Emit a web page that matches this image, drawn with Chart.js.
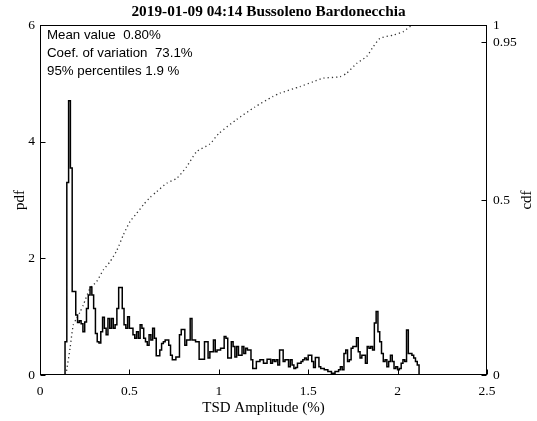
<!DOCTYPE html>
<html lang="en">
<head>
<meta charset="UTF-8">
<title>TSD Amplitude</title>
<script src="https://cdn.jsdelivr.net/npm/chart.js"></script>
<style>
  html, body { margin: 0; padding: 0; background: #fff; }
  #wrap { width: 537px; height: 421px; position: relative; }
</style>
</head>
<body>
<div id="wrap"><canvas id="tsdChart"></canvas></div>
<script>
// histogram: bins of 0.01 starting at 0, values = pdf
const chartTitle = '2019-01-09 04:14 Bussoleno Bardonecchia';
const binStart = 0;
const binWidth = 0.01;
const pdfValues = [
  0, 0, 0, 0, 0, 0, 0, 0, 0, 0,
  0, 0, 0, 0, 0.57, 3.3, 4.7, 3.55, 1.43, 1.43,
  1.03, 0.90, 0.93, 0.88, 0.74, 0.91, 1.14, 1.37, 1.51, 1.37,
  1.14, 0.71, 0.57, 0.55, 0.74, 0.99, 0.80, 0.69, 0.97, 0.80,
  0.97, 0.80, 0.86, 1.14, 1.50, 1.50, 1.14, 0.86, 0.80, 1.00,
  0.80, 0.80, 0.69, 0.63, 0.74, 0.63, 0.86, 0.80, 0.63, 0.57,
  0.51, 0.69, 0.60, 0.80, 0.63, 0.33, 0.33, 0.43, 0.54, 0.57,
  0.60, 0.60, 0.51, 0.34, 0.26, 0.26, 0.31, 0.31, 0.69, 0.78,
  0.78, 0.51, 0.60, 0.60, 0.97, 0.60, 0.60, 0.57, 0.57, 0.27,
  0.27, 0.27, 0.57, 0.57, 0.29, 0.40, 0.40, 0.60, 0.40, 0.43,
  0.43, 0.46, 0.46, 0.66, 0.63, 0.29, 0.29, 0.57, 0.49, 0.31,
  0.49, 0.34, 0.34, 0.49, 0.37, 0.46, 0.43, 0.43, 0.26, 0.11,
  0.11, 0.23, 0.23, 0.26, 0.26, 0.20, 0.20, 0.27, 0.27, 0.20,
  0.26, 0.23, 0.26, 0.17, 0.43, 0.43, 0.23, 0.26, 0.26, 0.14,
  0.26, 0.17, 0.11, 0.13, 0.20, 0.20, 0.23, 0.26, 0.29, 0.26,
  0.34, 0.34, 0.23, 0.13, 0.30, 0.30, 0.14, 0.11, 0.11, 0.09,
  0.09, 0.06, 0.06, 0.03, 0.03, 0.06, 0.06, 0.09, 0.14, 0.09,
  0.37, 0.43, 0.23, 0.26, 0.46, 0.49, 0.49, 0.64, 0.40, 0.29,
  0.34, 0.34, 0.20, 0.49, 0.46, 0.49, 0.43, 0.89, 1.09, 0.74,
  0.57, 0.37, 0.23, 0.26, 0.14, 0.23, 0.34, 0.23, 0.11, 0.14,
  0.09, 0.11, 0.20, 0.26, 0.23, 0.77, 0.37, 0.37, 0.34, 0.29,
  0.23, 0.17
];

// cumulative curve (dotted)
const cdfX = [0.145, 0.168, 0.186, 0.205, 0.224, 0.242, 0.28, 0.317, 0.354, 0.392,
  0.429, 0.466, 0.503, 0.541, 0.578, 0.615, 0.653, 0.709, 0.765, 0.82,
  0.876, 0.95, 1.0, 1.1, 1.2, 1.3, 1.342, 1.454, 1.529, 1.585,
  1.678, 1.715, 1.771, 1.827, 1.864, 1.902, 1.976, 2.032, 2.088, 2.5];
const cdfY = [0, 0.076, 0.143, 0.162, 0.18, 0.2, 0.248, 0.267, 0.30, 0.324,
  0.355, 0.40, 0.438, 0.462, 0.486, 0.507, 0.524, 0.548, 0.562, 0.595,
  0.638, 0.66, 0.69, 0.73, 0.765, 0.795, 0.805, 0.824, 0.838, 0.848,
  0.852, 0.862, 0.89, 0.91, 0.938, 0.962, 0.971, 0.981, 1.0, 1.0];

const pdfTicks = [0, 2, 4, 6];
const cdfTicks = [0, 0.5, 0.95, 1];
const xTicks = [0, 0.5, 1, 1.5, 2, 2.5];
const statLines = ['Mean value  0.80%', 'Coef. of variation  73.1%', '95% percentiles 1.9 %'];

const pdfPoints = pdfValues.map((v, i) => ({ x: +(binStart + i * binWidth).toFixed(2), y: v }));
pdfPoints.push({ x: +(binStart + pdfValues.length * binWidth).toFixed(2), y: 0 });
const cdfPoints = cdfX.map((x, i) => ({ x: x, y: cdfY[i] }));

const serifFamily = '"Liberation Serif", "Times New Roman", serif';
const tickFont = { family: serifFamily, size: 13.5 };
const labelFont = { family: serifFamily, size: 15 };
const plainLabel = v => String(v);

// box, inward ticks, right label and stats text
const framePlugin = {
  id: 'frame',
  afterDraw(chart) {
    const { ctx, chartArea: a, scales } = chart;
    const L = Math.round(a.left) + 0.5, R = Math.round(a.right) - 0.5;
    const T = Math.round(a.top) + 0.5, B = Math.round(a.bottom) - 0.5;
    ctx.save();
    ctx.strokeStyle = '#000';
    ctx.lineWidth = 1;
    ctx.strokeRect(L, T, R - L, B - T);
    ctx.beginPath();
    xTicks.forEach(v => {
      const px = Math.round(scales.x.getPixelForValue(v)) + 0.5;
      ctx.moveTo(px, B); ctx.lineTo(px, B - 5);
    });
    pdfTicks.forEach(v => {
      const py = Math.round(scales.y.getPixelForValue(v)) + 0.5;
      ctx.moveTo(L, py); ctx.lineTo(L + 5, py);
    });
    cdfTicks.forEach(v => {
      const py = Math.round(scales.y2.getPixelForValue(v)) + 0.5;
      ctx.moveTo(R, py); ctx.lineTo(R - 5, py);
    });
    ctx.stroke();

    ctx.fillStyle = '#000';
    ctx.font = '13.3px "Liberation Sans", Arial, sans-serif';
    ctx.textAlign = 'left';
    ctx.textBaseline = 'middle';
    statLines.forEach((s, i) => ctx.fillText(s, a.left + 7, a.top + 10.5 + i * 18));

    ctx.font = labelFont.size + 'px ' + serifFamily;
    ctx.textAlign = 'center';
    ctx.translate(527, (a.top + a.bottom) / 2);
    ctx.rotate(-Math.PI / 2);
    ctx.fillText('cdf', 0, 0);
    ctx.restore();
  }
};

new Chart(document.getElementById('tsdChart'), {
  type: 'line',
  data: {
    datasets: [
      {
        label: 'pdf',
        data: pdfPoints,
        yAxisID: 'y',
        borderColor: '#000',
        borderWidth: 1.5,
        stepped: true,
        pointRadius: 0,
        fill: false
      },
      {
        label: 'cdf',
        data: cdfPoints,
        yAxisID: 'y2',
        borderColor: '#333',
        borderWidth: 1.3,
        borderDash: [1.2, 3],
        pointRadius: 0,
        tension: 0.2,
        fill: false
      }
    ]
  },
  options: {
    responsive: true,
    maintainAspectRatio: false,
    animation: false,
    layout: { padding: 0 },
    plugins: {
      legend: { display: false },
      tooltip: { enabled: false },
      title: {
        display: true,
        text: chartTitle,
        color: '#000',
        font: { family: serifFamily, size: 15.3, weight: 'bold', lineHeight: 1.2 },
        padding: { top: 3, bottom: 3.6 }
      }
    },
    scales: {
      x: {
        type: 'linear',
        min: 0, max: 2.5,
        afterBuildTicks: s => { s.ticks = xTicks.map(v => ({ value: v })); },
        ticks: { color: '#000', font: tickFont, padding: 8, maxRotation: 0, autoSkip: false, callback: plainLabel },
        grid: { display: false, drawTicks: false },
        border: { display: false },
        title: { display: true, text: 'TSD Amplitude (%)', color: '#000', font: labelFont, padding: { top: 0, bottom: 4 } },
        afterFit: s => { s.height = 46; }
      },
      y: {
        position: 'left',
        min: 0, max: 6,
        afterBuildTicks: s => { s.ticks = pdfTicks.map(v => ({ value: v })); },
        ticks: { color: '#000', font: tickFont, padding: 5, callback: plainLabel },
        grid: { display: false, drawTicks: false },
        border: { display: false },
        title: { display: true, text: 'pdf', color: '#000', font: labelFont, padding: { top: 11, bottom: 0 } },
        afterFit: s => { s.width = 40; }
      },
      y2: {
        position: 'right',
        min: 0, max: 1,
        afterBuildTicks: s => { s.ticks = cdfTicks.map(v => ({ value: v })); },
        ticks: { color: '#000', font: tickFont, padding: 6, callback: plainLabel },
        grid: { display: false, drawTicks: false },
        border: { display: false },
        afterFit: s => { s.width = 50; }
      }
    }
  },
  plugins: [framePlugin]
});
</script>
</body>
</html>
